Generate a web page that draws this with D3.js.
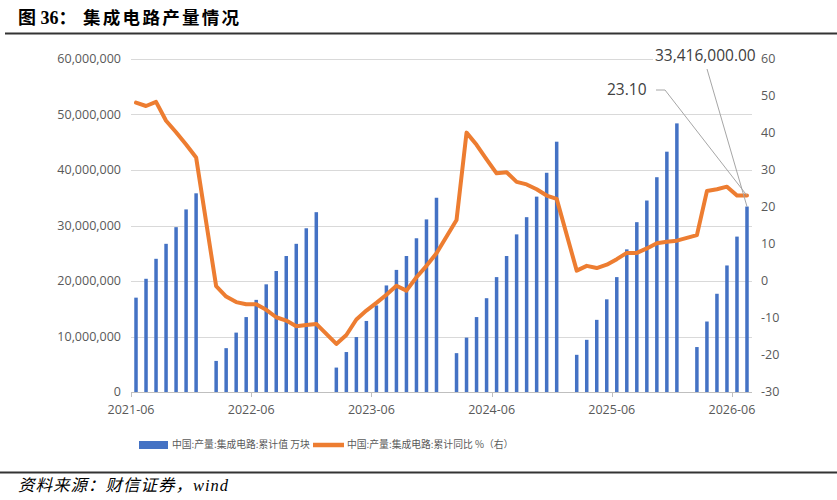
<!DOCTYPE html>
<html><head><meta charset="utf-8">
<script src="https://cdn.jsdelivr.net/npm/d3@7"></script>
<style>
html,body{margin:0;padding:0;background:#fff;}
svg{display:block;}
</style></head>
<body>
<svg id="chart" width="837" height="500"></svg>
<script>
const months = ["2021-06","2021-07","2021-08","2021-09","2021-10","2021-11","2021-12",
"2022-01","2022-02","2022-03","2022-04","2022-05","2022-06","2022-07","2022-08","2022-09","2022-10","2022-11","2022-12",
"2023-01","2023-02","2023-03","2023-04","2023-05","2023-06","2023-07","2023-08","2023-09","2023-10","2023-11","2023-12",
"2024-01","2024-02","2024-03","2024-04","2024-05","2024-06","2024-07","2024-08","2024-09","2024-10","2024-11","2024-12",
"2025-01","2025-02","2025-03","2025-04","2025-05","2025-06","2025-07","2025-08","2025-09","2025-10","2025-11","2025-12",
"2026-01","2026-02","2026-03","2026-04","2026-05","2026-06","2026-07"];
const cumValue = [17000000,20400000,24000000,26700000,29700000,32900000,35800000,
null,5600000,7900000,10700000,13500000,16600000,19400000,21800000,24500000,26700000,29500000,32400000,
null,4400000,7200000,9900000,12800000,15600000,19200000,22000000,24500000,27700000,31100000,35000000,
null,7000000,9800000,13500000,16900000,20700000,24500000,28400000,31500000,35200000,39500000,45100000,
null,6700000,9400000,13000000,16700000,20700000,25700000,30600000,34500000,38700000,43300000,48400000,
null,8100000,12700000,17700000,22800000,28000000,33416000];
const yoyValue = [48.2,47.3,48.4,43.3,40.2,36.9,33.4,
null,-1.4,-4.2,-5.7,-6.3,-6.3,-7.8,-9.8,-10.7,-12.2,-11.9,-11.6,
null,-17.0,-14.6,-10.4,-8.0,-5.9,-3.7,-1.3,-2.6,1.0,4.1,7.5,
null,16.5,40.1,36.8,32.9,29.1,29.4,26.8,26.1,24.8,23.1,22.2,
null,2.8,4.1,3.5,4.4,5.9,7.6,7.6,8.8,10.2,10.6,10.9,
null,12.4,24.3,24.8,25.5,23.1,23.1];
const xTickLabels = ["2021-06","2022-06","2023-06","2024-06","2025-06","2026-06"];
const leftTicks = [0,10000000,20000000,30000000,40000000,50000000,60000000];
const rightTicks = [-30,-20,-10,0,10,20,30,40,50,60];
const titleText = "集成电路产量情况";
const seriesNames = ["中国:产量:集成电路:累计值 万块","中国:产量:集成电路:累计同比 %（右）"];

const data = months.map((m,i)=>({m, v:cumValue[i], p:yoyValue[i]}));
const svg = d3.select("#chart");
const L=131, R=752, T=59, B=392;
const x = d3.scaleBand().domain(months).range([L,R]).padding(0);
const yL = d3.scaleLinear().domain([0,60000000]).range([B,T]);
const yR = d3.scaleLinear().domain([-30,60]).range([B,T]);
const tickFont = "'Open Sans', 'Noto Sans', sans-serif";
const grey = "#595959";

// title
svg.append("text").attr("x",18).attr("y",24).attr("font-family","'Liberation Serif','Noto Sans CJK SC',serif")
  .attr("font-weight","bold").attr("font-size",18).attr("fill","#000").text("图 36：");
svg.append("text").attr("x",83).attr("y",24).attr("font-family","'Noto Sans CJK SC',serif")
  .attr("font-weight","bold").attr("font-size",17.5).attr("letter-spacing",2.3).attr("fill","#000").text(titleText);
svg.append("line").attr("x1",5).attr("x2",837).attr("y1",33.5).attr("y2",33.5).attr("stroke","#333").attr("stroke-width",2);

// gridlines
svg.append("g").selectAll("line").data(leftTicks.filter(d=>d>0)).join("line")
  .attr("x1",L).attr("x2",R).attr("y1",d=>Math.round(yL(d))+0.5).attr("y2",d=>Math.round(yL(d))+0.5)
  .attr("stroke","#d9d9d9").attr("stroke-width",1);

// left axis labels
svg.append("g").selectAll("text").data(leftTicks).join("text")
  .attr("x",121).attr("y",d=>yL(d)).attr("dy","0.35em").attr("text-anchor","end")
  .attr("font-family",tickFont).attr("font-size",12.5).attr("fill",grey)
  .text(d=>d3.format(",")(d));
// right axis labels
svg.append("g").selectAll("text").data(rightTicks).join("text")
  .attr("x",761).attr("y",d=>yR(d)).attr("dy","0.35em").attr("text-anchor","start")
  .attr("font-family",tickFont).attr("font-size",12.5).attr("fill",grey)
  .text(d=>d);

// bars
const bw = 3.5;
svg.append("g").selectAll("rect").data(data.filter(d=>d.v!=null)).join("rect")
  .attr("x",d=>x(d.m)+x.bandwidth()/2-bw/2).attr("width",bw)
  .attr("y",d=>yL(d.v)).attr("height",d=>B-yL(d.v)).attr("fill","#4472C4");

// x axis
svg.append("line").attr("x1",L).attr("x2",R).attr("y1",B+0.5).attr("y2",B+0.5).attr("stroke","#bfbfbf");
svg.append("g").selectAll("line").data(xTickLabels).join("line")
  .attr("x1",d=>Math.round(x(d))+0.5).attr("x2",d=>Math.round(x(d))+0.5).attr("y1",B).attr("y2",B+5).attr("stroke","#bfbfbf");
svg.append("g").selectAll("text").data(xTickLabels).join("text")
  .attr("x",d=>x(d)).attr("y",414).attr("text-anchor","middle")
  .attr("font-family",tickFont).attr("font-size",12.5).attr("fill",grey).text(d=>d);

// line
const line = d3.line().x(d=>x(d.m)+x.bandwidth()/2).y(d=>yR(d.p)).curve(d3.curveLinear);
svg.append("path").datum(data.filter(d=>d.p!=null)).attr("d",line)
  .attr("fill","none").attr("stroke","#ED7D31").attr("stroke-width",4).attr("stroke-linejoin","round").attr("stroke-linecap","round");

// annotations
const last = data[data.length-1];
const lx = x(last.m)+x.bandwidth()/2;
svg.append("rect").attr("x",653).attr("y",44).attr("width",106).attr("height",20).attr("fill","#fff");
svg.append("text").attr("x",655).attr("y",61).attr("font-family",tickFont).attr("font-size",15.5).attr("fill","#404040")
  .text(d3.format(",.2f")(last.v));
svg.append("text").attr("x",607).attr("y",95).attr("font-family",tickFont).attr("font-size",15.5).attr("fill","#404040")
  .text(d3.format(".2f")(last.p));
svg.append("polyline").attr("points",`656,90 665,90 ${lx},${yR(last.p)}`).attr("fill","none").attr("stroke","#a6a6a6").attr("stroke-width",1);
svg.append("line").attr("x1",707).attr("y1",69).attr("x2",lx).attr("y2",yL(last.v)).attr("stroke","#a6a6a6").attr("stroke-width",1);

// legend
const lg = svg.append("g").attr("font-family","'Noto Sans CJK SC',sans-serif").attr("font-size",9.8).attr("fill",grey);
lg.append("rect").attr("x",139).attr("y",441).attr("width",29).attr("height",8).attr("fill","#4472C4");
lg.append("text").attr("x",172).attr("y",445).attr("dy","0.35em").text(seriesNames[0]);
lg.append("line").attr("x1",313).attr("x2",344).attr("y1",445).attr("y2",445).attr("stroke","#ED7D31").attr("stroke-width",4.5);
lg.append("text").attr("x",347).attr("y",445).attr("dy","0.35em").text(seriesNames[1]);

// footer
svg.append("line").attr("x1",0).attr("x2",837).attr("y1",472.5).attr("y2",472.5).attr("stroke","#333").attr("stroke-width",2);
svg.append("text").attr("x",18).attr("y",491).attr("font-family","'Liberation Serif','Noto Sans CJK SC',serif")
  .attr("font-style","italic").attr("font-size",16.5).attr("letter-spacing",1).attr("fill","#000").text("资料来源：财信证券，wind");
</script>
</body></html>
